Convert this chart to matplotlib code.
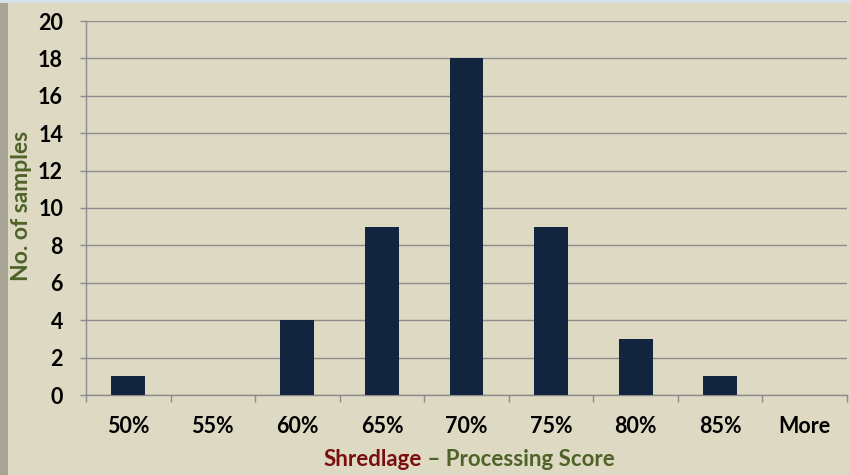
import matplotlib.pyplot as plt
import matplotlib.patches as mpatches
import numpy as np

# --- Dados do histograma ---
categorias = ['50%', '55%', '60%', '65%', '70%', '75%', '80%', '85%', 'More']
amostras = [1, 0, 4, 9, 18, 9, 3, 1, 0]
y_ticks = [0, 2, 4, 6, 8, 10, 12, 14, 16, 18, 20]

fundo = '#DDD9C3'
cor_barra = '#12243E'
verde = '#4F6228'
vermelho = '#7A0E0E'
fonte = 'Lato'

fig = plt.figure(figsize=(8.5, 4.75), dpi=100)
fig.patch.set_facecolor(fundo)

# faixas da borda (cinza à esquerda, azul claro no topo)
fig.patches.append(mpatches.Rectangle((0, 0), 8 / 850, 1, transform=fig.transFigure,
                                      facecolor='#A9A595', edgecolor='none', zorder=0))
fig.patches.append(mpatches.Rectangle((0, 1 - 3 / 475), 1, 3 / 475, transform=fig.transFigure,
                                      facecolor='#D6E2EA', edgecolor='none', zorder=0))

ax = fig.add_axes([86 / 850, 1 - 395 / 475, (847 - 86) / 850, (395 - 21) / 475])
ax.set_facecolor(fundo)

x = np.arange(len(categorias))
ax.bar(x, amostras, width=0.4, color=cor_barra, zorder=3)

ax.set_xlim(-0.5, len(categorias) - 0.5)
ax.set_ylim(0, 20)
ax.set_yticks(y_ticks)
ax.set_yticklabels([str(v) for v in y_ticks], fontsize=15.5, fontweight='bold', family=fonte)

# ticks do eixo x nas fronteiras das categorias
ax.set_xticks(np.arange(-0.5, len(categorias), 1))
ax.set_xticklabels([])
ax.set_xticks(x, minor=True)
ax.set_xticklabels(categorias, minor=True, fontsize=15.5, fontweight='bold', family=fonte)
ax.tick_params(axis='x', which='major', length=5, width=1, color='#8C8C8C', direction='out')
ax.tick_params(axis='x', which='minor', length=0, pad=15)
ax.tick_params(axis='y', length=4.5, width=1, color='#8C8C8C', pad=12)

ax.grid(True, axis='y', color='#8C8C8C', linewidth=1, zorder=0)
for lado in ['top', 'right']:
    ax.spines[lado].set_visible(False)
for lado in ['left', 'bottom']:
    ax.spines[lado].set_color('#8C8C8C')
    ax.spines[lado].set_linewidth(1)

# rótulos dos eixos
fig.text(22 / 850, 1 - 206 / 475, 'No. of samples', rotation=90, ha='center', va='center',
         color=verde, fontsize=16.5, fontweight='bold', family=fonte)
fig.text(422 / 850, 1 - 460 / 475, 'Shredlage', ha='right', va='center',
         color=vermelho, fontsize=16, fontweight='bold', family=fonte)
fig.text(422 / 850, 1 - 460 / 475, ' \u2013 Processing Score', ha='left', va='center',
         color=verde, fontsize=16, fontweight='bold', family=fonte)

fig.savefig('out.png', dpi=100, facecolor=fundo)
